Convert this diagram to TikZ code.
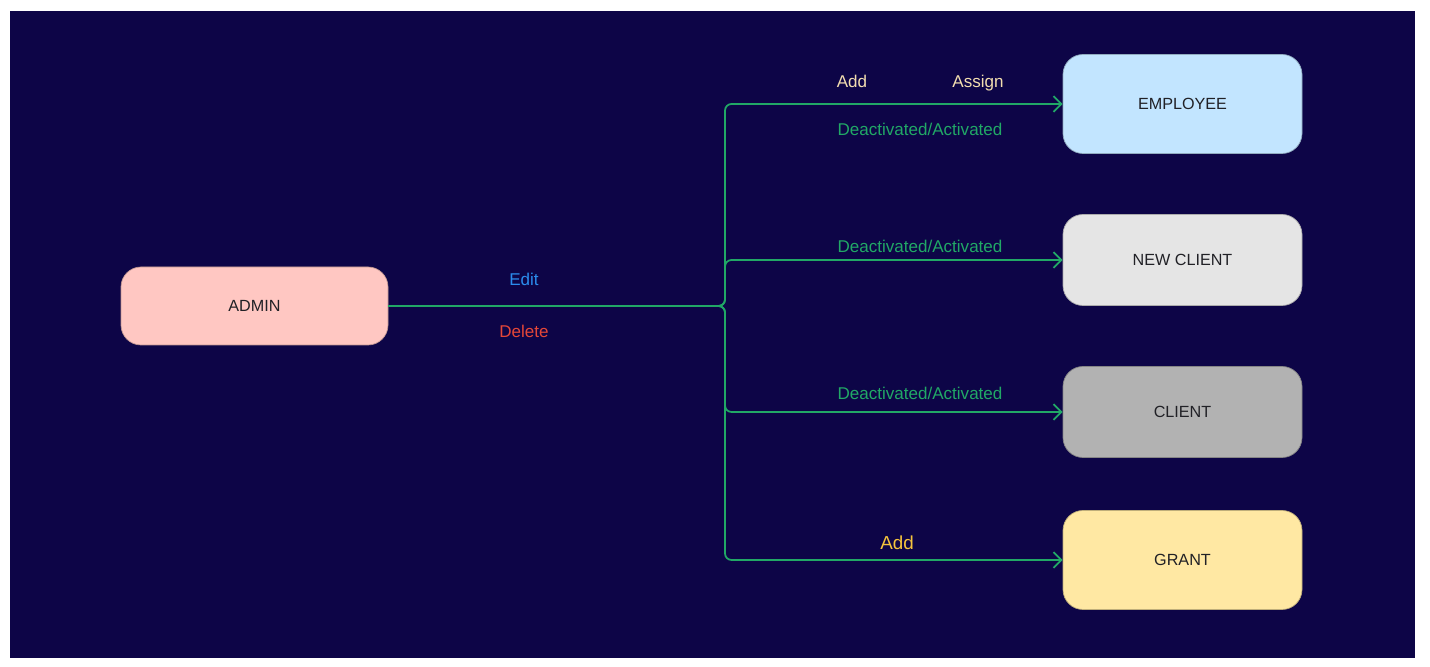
\documentclass[tikz,border=0pt]{standalone}
\usepackage{fontspec}
\setmainfont{Liberation Sans}
\usepackage{tikz}
\usetikzlibrary{arrows.meta}

\begin{document}
\begin{tikzpicture}[
    box/.style={rounded corners=0.4cm, minimum width=4.78cm, text=boxtext,
        draw=#1!75!black, line width=0.4pt, fill=#1,
        font=\fontsize{9.2}{10}\selectfont},
    flow/.style={draw=flowgreen, line width=1pt, rounded corners=0.13cm,
        -{Straight Barb[length=4.5pt,width=9pt]}},
    lbl/.style={font=\fontsize{9.7}{11}\selectfont, inner sep=0pt,
        text height=1.6ex, text depth=0.45ex}
  ]

    \definecolor{navybg}{rgb}{0.05,0.02,0.28}
    \definecolor{flowgreen}{rgb}{0.13,0.66,0.4}
    \definecolor{boxtext}{rgb}{0.13,0.13,0.15}
    \definecolor{empblue}{rgb}{0.76,0.9,1}
    \definecolor{newgrey}{rgb}{0.9,0.9,0.9}
    \definecolor{clientgrey}{rgb}{0.7,0.7,0.7}
    \definecolor{grantyellow}{rgb}{1,0.91,0.64}
    \definecolor{adminpink}{rgb}{1,0.78,0.76}
    \definecolor{editblue}{rgb}{0.17,0.55,0.93}
    \definecolor{deletered}{rgb}{0.9,0.28,0.22}
    \definecolor{beige}{rgb}{0.95,0.87,0.69}
    \definecolor{gold}{rgb}{0.96,0.77,0.24}

    \useasboundingbox (0,0) rectangle (28.6,13.34);
    \fill[navybg] (0.2,0.18) rectangle (28.3,13.12);

    % boxes
    \node[box=adminpink, minimum width=5.34cm, minimum height=1.56cm] (admin) at (5.09,7.22) {ADMIN};
    \node[box=empblue, minimum height=1.98cm] (employee) at (23.65,11.26) {EMPLOYEE};
    \node[box=newgrey, minimum height=1.82cm] (newclient) at (23.65,8.14) {NEW CLIENT};
    \node[box=clientgrey, minimum height=1.82cm] (client) at (23.65,5.10) {CLIENT};
    \node[box=grantyellow, minimum height=1.98cm] (grant) at (23.65,2.14) {GRANT};

    % connectors
    \coordinate (split) at (14.5,7.22);
    \draw[flow] (admin.east) -- (split) |- (employee.west);
    \draw[flow] (admin.east) -- (split) |- (newclient.west);
    \draw[flow] (admin.east) -- (split) |- (client.west);
    \draw[flow] (admin.east) -- (split) |- (grant.west);

    % labels
    \node[lbl, text=editblue] (edit) at (10.48,7.74) {Edit};
    \node[lbl, text=deletered] (delete) at (10.48,6.70) {Delete};
    \node[lbl, text=beige] (empadd) at (17.04,11.70) {Add};
    \node[lbl, text=beige] (empassign) at (19.56,11.70) {Assign};
    \node[lbl, text=flowgreen] (empdeact) at (18.4,10.74) {Deactivated/Activated};
    \node[lbl, text=flowgreen] (newdeact) at (18.4,8.40) {Deactivated/Activated};
    \node[lbl, text=flowgreen] (clientdeact) at (18.4,5.46) {Deactivated/Activated};
    \node[lbl, text=gold, font=\fontsize{10.7}{12}\selectfont] (grantadd) at (17.94,2.46) {Add};

\end{tikzpicture}
\end{document}
